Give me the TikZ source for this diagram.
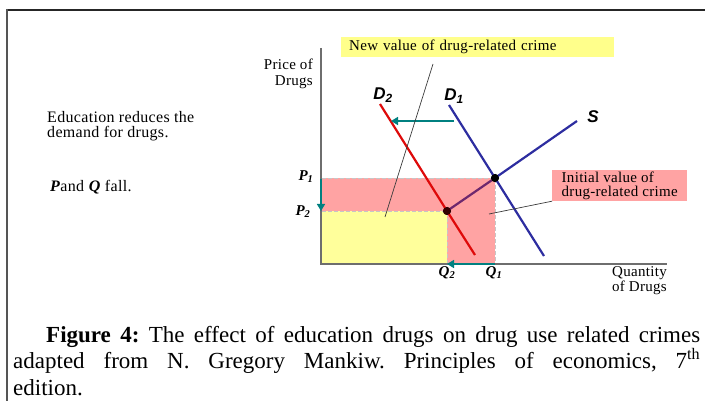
\documentclass[tikz,border=0pt]{standalone}
\usepackage{fontspec}
\setmainfont{Liberation Serif}
\newfontfamily\garafont[LetterSpace=2]{Liberation Serif}
\newfontfamily\curvefont{Liberation Sans}
\usetikzlibrary{arrows.meta,positioning}
\definecolor{axisgray}{RGB}{110,110,110}
\definecolor{framegray}{RGB}{85,85,85}
\definecolor{demandred}{RGB}{222,10,10}
\definecolor{supplyblue}{RGB}{45,45,160}
\definecolor{mixpurple}{RGB}{110,40,110}
\definecolor{shiftteal}{RGB}{0,128,128}
\definecolor{pinkfill}{RGB}{255,163,163}
\definecolor{yellowfill}{RGB}{255,255,155}
\definecolor{calloutgray}{RGB}{60,60,60}
\tikzset{
  axisline/.style={draw=axisgray, line width=1.4pt},
  curve/.style={line width=2.2pt},
  shiftarrow/.style={-{Triangle[length=7pt,width=8pt]}, draw=shiftteal, line width=1.6pt},
  guide/.style={dashed, dash pattern=on 4pt off 2pt, draw=gray!45, line width=0.9pt},
  callout/.style={draw=calloutgray, line width=0.7pt},
  smalltext/.style={font=\garafont\fontsize{15}{15.5}\selectfont, inner sep=0pt},
  pqlabel/.style={font=\fontsize{15}{15}\selectfont\bfseries\itshape, inner sep=0pt},
  curvelabel/.style={font=\curvefont\bfseries\itshape\fontsize{17}{17}\selectfont, inner sep=0pt},
  eqdot/.style={circle, fill=black, inner sep=0pt, minimum size=8pt},
  valuebox/.style={smalltext, align=left, inner xsep=8pt, inner ysep=3pt}
}
\begin{document}
\frenchspacing
\begin{tikzpicture}[x=1pt, y=-1pt]
\useasboundingbox (0,0) rectangle (705,401);
% frame
\draw[line width=2pt, draw=black!85] (6,10) -- (705,10);
\draw[line width=2.6pt, draw=framegray] (7,9) -- (7,401);

% crime areas
\fill[pinkfill] (322,178) rectangle (495,264);
\fill[yellowfill] (322,211) rectangle (447,264);
\draw[guide] (322,178) -- (495,178) -- (495,264);
\draw[guide] (322,211) -- (447,211) -- (447,264);

% axes
\coordinate (origin) at (321,264);
\draw[axisline] (321,48) -- (origin) -- (667,264);
\node[smalltext, align=right, anchor=north east] (ylab) at (313,59) {Price of\\Drugs};
\node[smalltext, align=right, anchor=north east] (xlab) at (667,266) {Quantity\\of Drugs};

% equilibria
\node[eqdot] (eq1) at (495,178) {};
\node[eqdot] (eq2) at (447,211) {};

% curves
\coordinate (d1top) at (449,105);
\coordinate (d1bot) at (544,256);
\coordinate (d2top) at (380,104);
\coordinate (d2bot) at (475,255);
\coordinate (stop) at (577,121);
\draw[curve, draw=supplyblue] (d1top) -- (eq1.center) -- (d1bot);
\draw[curve, draw=demandred] (d2top) -- (eq2.center) -- (d2bot);
\draw[curve, draw=mixpurple] (eq2.center) -- (eq1.center);
\draw[curve, draw=supplyblue] (eq1.center) -- (stop);
\node[eqdot] at (eq1) {};
\node[eqdot, fill=black!80!red] at (eq2) {};
\node[curvelabel] (d2lab) at (383,95) {D\textsubscript{2}};
\node[curvelabel] (d1lab) at (454,96) {D\textsubscript{1}};
\node[curvelabel] (slab) at (593,117) {S};

% shifts
\coordinate (shtail) at (454,121);
\coordinate (shhead) at (391,121);
\draw[shiftarrow] (shtail) -- (shhead);
\coordinate (p1) at (321,179);
\coordinate (p2) at (321,211);
\draw[shiftarrow] (p1) -- (p2);
\coordinate (q1) at (495,264);
\coordinate (q2) at (447,264);
\draw[shiftarrow] (q1) -- (q2);

% axis values
\node[pqlabel] (p1lab) at (306,177) {P\textsubscript{1}};
\node[pqlabel] (p2lab) at (303,212) {P\textsubscript{2}};
\node[pqlabel] (q2lab) at (447,273) {Q\textsubscript{2}};
\node[pqlabel] (q1lab) at (494,273) {Q\textsubscript{1}};

% crime boxes
\node[valuebox, fill=yellowfill!90!yellow, anchor=north west, text width=257pt, minimum height=20pt] (newbox) at (341,37) {New value of drug-related crime};
\node[valuebox, font=\garafont\fontsize{15}{14}\selectfont, fill=pinkfill, anchor=north west, minimum width=135pt, inner xsep=6pt, inner ysep=1.5pt] (initbox) at (552,170) {Initial value of\\drug-related crime};
\coordinate (newend) at (385,217);
\coordinate (newstart) at (433,64);
\draw[callout] (newstart) -- (newend);
\coordinate (initend) at (489,214);
\draw[callout] (initend) -- (initbox.south west);

% notes
\node[smalltext, font=\garafont\fontsize{16}{15.5}\selectfont, align=left, anchor=north west] (note1) at (47,111) {Education reduces the\\demand for drugs.};
\node[smalltext, font=\garafont\fontsize{16}{15.5}\selectfont, anchor=west] (note2) at (50,187) {\textbf{\textit{P}}and \textbf{\textit{Q}} fall.};

% caption
\node[anchor=north west, inner sep=0pt, text width=687pt, align=justify,
  font=\fontsize{23}{26.5}\selectfont] (caption) at (13,326)
  {\hspace*{33pt}\textbf{Figure 4:} The effect of education drugs on drug use related crimes\linebreak adapted from N. Gregory Mankiw. Principles of economics, 7\textsuperscript{th}\linebreak edition.};
\end{tikzpicture}
\end{document}
